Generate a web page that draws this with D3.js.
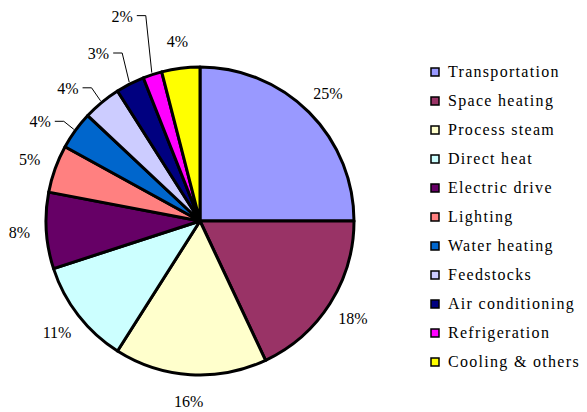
<!DOCTYPE html>
<html>
<head>
<meta charset="utf-8">
<script src="https://cdn.jsdelivr.net/npm/d3@7"></script>
<style>
  body { margin: 0; background: #fff; }
</style>
</head>
<body>
<svg id="chart" width="587" height="412"></svg>
<script>
var categories = ["Transportation", "Space heating", "Process steam", "Direct heat",
    "Electric drive", "Lighting", "Water heating", "Feedstocks",
    "Air conditioning", "Refrigeration", "Cooling & others"];
var shares = [25, 18, 16, 11, 8, 5, 4, 4, 3, 2, 4];
var colors = ["#9999ff", "#993366", "#ffffcc", "#ccffff", "#660066", "#ff8080",
    "#0066cc", "#ccccff", "#000080", "#ff00ff", "#ffff00"];

// labels that Excel pushed away from their slice, with a leader line
// (offset of the leader's elbow from the point on the rim)
var leaderShift = {
    "Water heating": [-10, -8],
    "Feedstocks": [-9, -13],
    "Air conditioning": [-7, -29],
    "Refrigeration": [-6, -57]
};

var FONT = "'Liberation Serif'";

var svg = d3.select("#chart");
var cx = 200, cy = 221, radius = 154;

var pie = d3.pie().sort(null).value(function (d) { return d.value; });
var arc = d3.arc().innerRadius(0).outerRadius(radius);
var labelArc = d3.arc().innerRadius(181).outerRadius(181);
var rimArc = d3.arc().innerRadius(radius + 2).outerRadius(radius + 2);

var data = categories.map(function (c, i) {
    return {name: c, value: shares[i], color: colors[i]};
});
var arcs = pie(data);

var g = svg.append("g").attr("transform", "translate(" + cx + "," + cy + ")");

g.selectAll("path.slice")
    .data(arcs)
    .enter().append("path")
    .attr("class", "slice")
    .attr("d", arc)
    .style("fill", function (d) { return d.data.color; })
    .style("stroke", "#000")
    .style("stroke-width", 3)
    .style("stroke-linejoin", "round");

arcs.forEach(function (d) {
    var shift = leaderShift[d.data.name];
    var label = d.data.value + "%";
    if (shift) {
        var p = rimArc.centroid(d);
        var ex = p[0] + shift[0], ey = p[1] + shift[1];
        g.append("polyline")
            .attr("points", [[ex - 9, ey], [ex, ey], p].join(" "))
            .style("fill", "none")
            .style("stroke", "#000")
            .style("stroke-width", 1);
        g.append("text")
            .attr("x", ex - 13)
            .attr("y", ey + 6)
            .attr("text-anchor", "end")
            .attr("font-family", FONT)
            .attr("font-size", 16)
            .text(label);
    } else {
        var c = labelArc.centroid(d);
        g.append("text")
            .attr("x", c[0])
            .attr("y", c[1])
            .attr("dy", "0.35em")
            .attr("text-anchor", "middle")
            .attr("font-family", FONT)
            .attr("font-size", 16)
            .text(label);
    }
});

// legend
var legendY = d3.scalePoint()
    .domain(categories)
    .range([77, 367]);

var legend = svg.selectAll("g.legend")
    .data(data)
    .enter().append("g")
    .attr("class", "legend")
    .attr("transform", function (d) { return "translate(431," + legendY(d.name) + ")"; });

legend.append("rect")
    .attr("x", 0)
    .attr("y", -9)
    .attr("width", 8)
    .attr("height", 8)
    .style("fill", function (d) { return d.color; })
    .style("stroke", "#000")
    .style("stroke-width", 1.5);

legend.append("text")
    .attr("x", 17)
    .attr("y", 0)
    .attr("font-family", FONT)
    .attr("font-size", 16)
    .style("letter-spacing", "1.3px")
    .text(function (d) { return d.name; });
</script>
</body>
</html>
